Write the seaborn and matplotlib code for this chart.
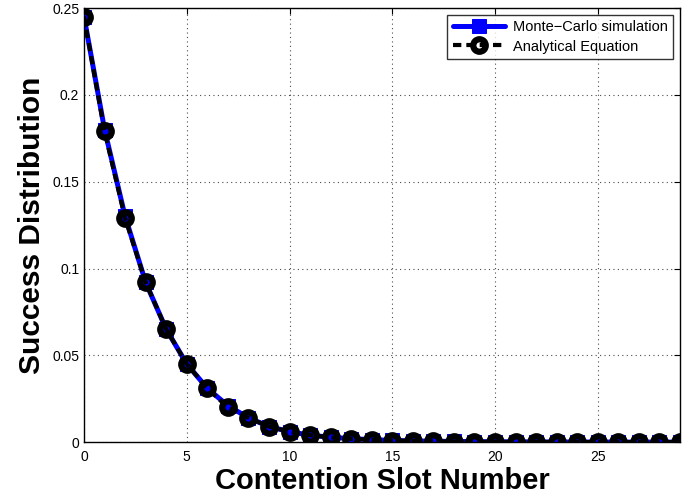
import seaborn as sns
import pandas as pd
import matplotlib.pyplot as plt
from matplotlib.ticker import FuncFormatter

# Data
slots = list(range(30))
monte_carlo = [0.245, 0.180, 0.130, 0.092, 0.065, 0.045, 0.031, 0.021, 0.014, 0.009,
               0.006, 0.004, 0.0028, 0.002, 0.0014, 0.001, 0.0007, 0.0005, 0.0004, 0.0003,
               0.0002, 0.00015, 0.0001, 0.00008, 0.00006, 0.00004, 0.00003, 0.00002, 0.00002, 0.00001]
analytical = [0.245, 0.179, 0.129, 0.092, 0.065, 0.045, 0.031, 0.020, 0.014, 0.009,
              0.006, 0.004, 0.0027, 0.0019, 0.0013, 0.0009, 0.0007, 0.0005, 0.0003, 0.0002,
              0.00017, 0.00012, 0.00009, 0.00006, 0.00004, 0.00003, 0.00002, 0.00002, 0.00001, 0.00001]

data = pd.DataFrame({"slot": slots, "mc": monte_carlo, "an": analytical})

sns.set_style("white")
plt.rcParams['font.family'] = ['Liberation Sans', 'DejaVu Sans']
plt.rcParams['text.color'] = 'black'
plt.rcParams['axes.labelcolor'] = 'black'

fig = plt.figure(figsize=(6.83, 5.03), dpi=100)
ax = fig.add_axes([0.123, 0.121, 0.8726, 0.863])

sns.lineplot(data=data, x="slot", y="mc", ax=ax, color="blue", linewidth=3.6,
             marker="s", markersize=10, markeredgecolor="blue",
             label="Monte\u2212Carlo simulation")
sns.lineplot(data=data, x="slot", y="an", ax=ax, color="black", linewidth=3.0,
             linestyle=(0, (2.0, 1.2)), marker="o", markersize=9,
             markerfacecolor="none", markeredgecolor="black", markeredgewidth=4.5,
             label="Analytical Equation")

ax.set_xlim(0, 29)
ax.set_ylim(0, 0.25)
ax.set_xticks([0, 5, 10, 15, 20, 25])
ax.set_yticks([0, 0.05, 0.1, 0.15, 0.2, 0.25])
ax.yaxis.set_major_formatter(FuncFormatter(lambda v, p: "0" if v == 0 else ("%g" % v)))

ax.grid(True, linestyle=(0, (1, 3)), color="black", linewidth=0.8, alpha=0.7)
ax.tick_params(direction="in", length=4, width=0.8, labelsize=10, top=True, right=True,
               colors="black")
ax.tick_params(axis="x", pad=6)
for s in ax.spines.values():
    s.set_visible(True)
    s.set_color("black")
    s.set_linewidth(1.0)

ax.set_xlabel("Contention Slot Number", fontsize=21, fontweight="bold", labelpad=2)
ax.set_ylabel("Success Distribution", fontsize=21.5, fontweight="bold", labelpad=4)

leg = ax.legend(loc="upper right", fontsize=10.5, frameon=True, fancybox=False,
                edgecolor="black", borderpad=0.4, handlelength=3.6, labelspacing=0.35,
                handletextpad=0.5, borderaxespad=0.45)
leg.get_frame().set_linewidth(1.0)

plt.savefig("out.png", dpi=100)
